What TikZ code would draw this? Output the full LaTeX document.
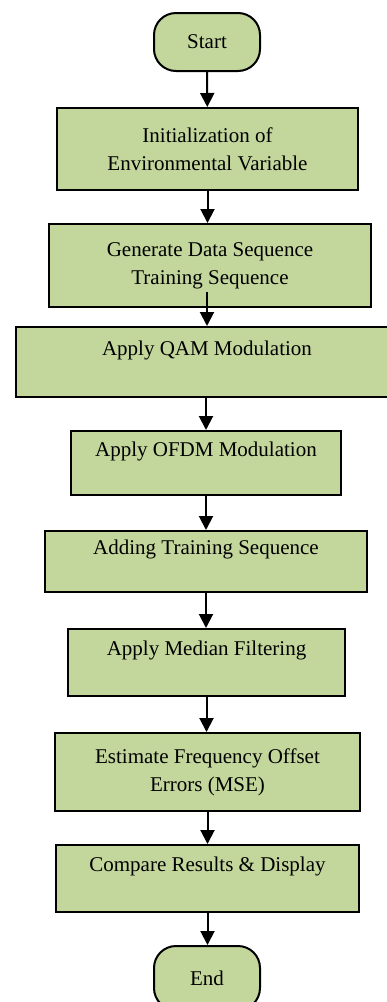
\documentclass[tikz,border=0pt]{standalone}
\usepackage{fontspec}
\setmainfont{Liberation Serif}
\usetikzlibrary{arrows.meta}
\definecolor{boxgreen}{RGB}{195,214,155}
\begin{document}
\begin{tikzpicture}[x=1pt,y=-1pt,
        box/.style={draw,line width=2pt,fill=boxgreen,inner sep=0pt,align=center,
            font=\fontsize{21}{28}\selectfont},
        term/.style={box,rounded corners=22pt,minimum width=106pt,minimum height=58pt},
        flow/.style={line width=2pt,-{Triangle[length=14pt,width=14pt]}}]
        \useasboundingbox (0,0) rectangle (387,1002);
        \node [term] (start) at (207,42) {Start};
        \node [box,minimum width=301pt,minimum height=82pt] (init) at (207.5,149) {Initialization of\\Environmental Variable};
        \node [box,minimum width=322pt,minimum height=83pt] (gen) at (210,265.5) {Generate Data Sequence\\Training Sequence};
        \node [box,minimum width=382pt,minimum height=70pt] (qam) at (207,362) {Apply QAM Modulation\\~};
        \node [box,minimum width=270pt,minimum height=64pt] (ofdm) at (206,463) {Apply OFDM Modulation\\~};
        \node [box,minimum width=322pt,minimum height=61pt] (add) at (206,561.5) {Adding Training Sequence\\~};
        \node [box,minimum width=277pt,minimum height=67pt] (med) at (206.5,662.5) {Apply Median Filtering\\~};
        \node [box,minimum width=305pt,minimum height=78pt] (est) at (207.5,772) {Estimate Frequency Offset\\Errors (MSE)};
        \node [box,minimum width=303pt,minimum height=67pt] (cmp) at (207.5,878.5) {Compare Results \& Display\\~};
        \node [term,minimum height=64pt] (end) at (207,978) {End};
        \draw [flow] (start) -- (init);
        \draw [flow] (init) -- (init.south |- gen.north);
        \draw [flow] ([yshift=16pt]gen.south -| qam.north) -- (qam);
        \draw [flow] (qam.south -| ofdm.north) -- (ofdm);
        \draw [flow] (ofdm) -- (ofdm.south |- add.north);
        \draw [flow] (add) -- (add.south |- med.north);
        \draw [flow] (med) -- (med.south |- est.north);
        \draw [flow] (est) -- (est.south |- cmp.north);
        \draw [flow] (cmp) -- (cmp.south |- end.north);
    \end{tikzpicture}
\end{document}
